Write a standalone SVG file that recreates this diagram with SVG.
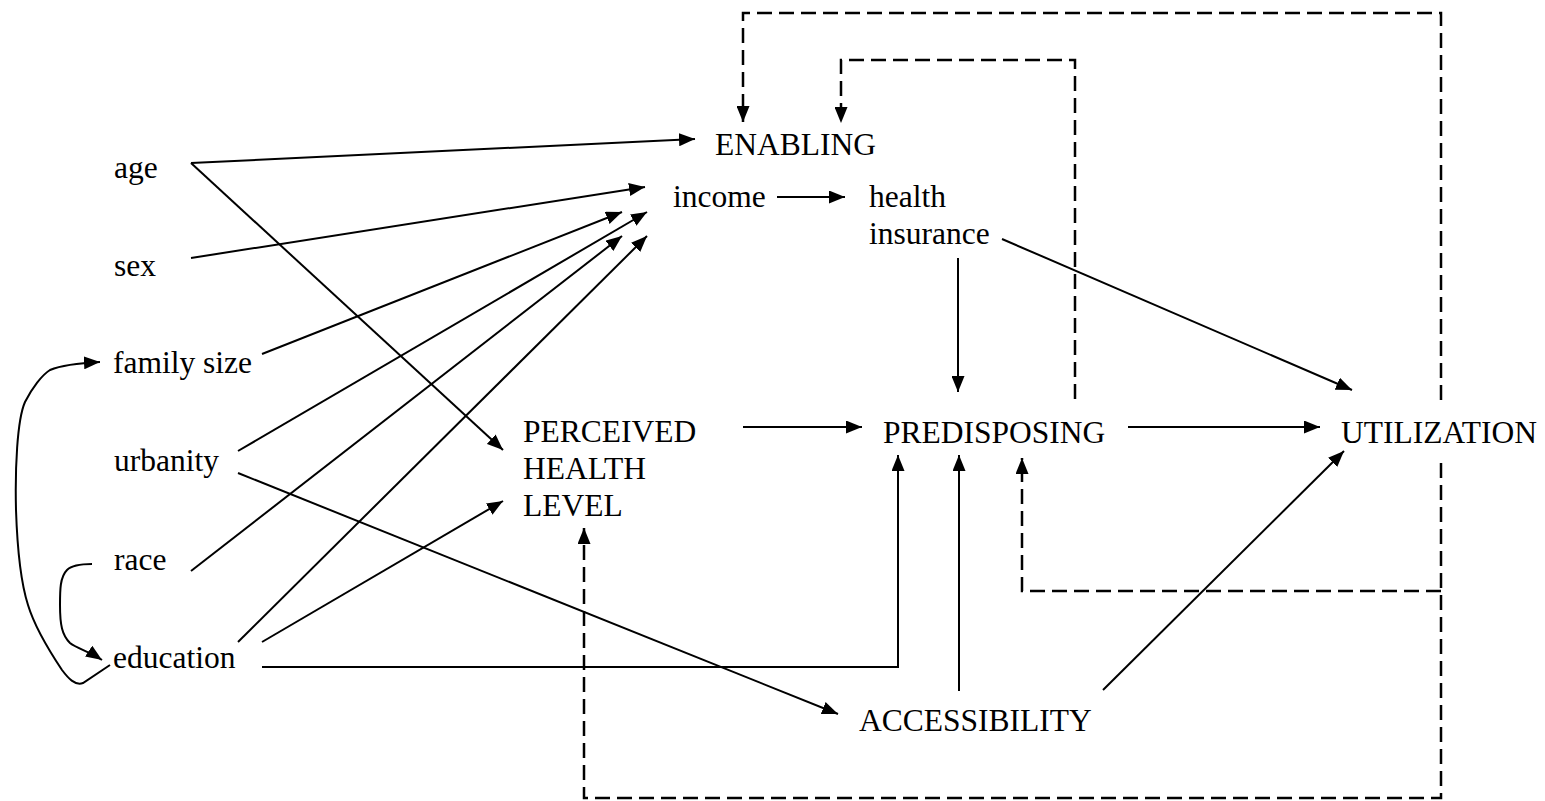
<svg xmlns="http://www.w3.org/2000/svg" width="1545" height="801" viewBox="0 0 1545 801">
  <style>
    text { font-family: "Liberation Serif", "Times New Roman", serif; font-size: 31.5px; fill: #000; }
    .edge { fill: none; stroke: #000; stroke-width: 2; marker-end: url(#arrow); }
    .feedback { fill: none; stroke: #000; stroke-width: 2.5; stroke-dasharray: 15 7; }
    .feedback.tip { marker-end: url(#arrow); }
  </style>
  <defs>
    <marker id="arrow" markerUnits="userSpaceOnUse" markerWidth="16" markerHeight="13" refX="16" refY="6.5" orient="auto">
      <path d="M0,0 L16,6.5 L0,13 Z" fill="#000" stroke="none"/>
    </marker>
  </defs>
  <rect width="1545" height="801" fill="#fff"/>

  <g id="connectors">
    <!-- background variables -->
    <line class="edge" x1="191" y1="163" x2="695" y2="139"/>
    <line class="edge" x1="191" y1="163" x2="503" y2="450"/>
    <line class="edge" x1="191" y1="258" x2="645" y2="187"/>
    <line class="edge" x1="262" y1="354" x2="622" y2="212"/>
    <line class="edge" x1="238" y1="451" x2="647" y2="212"/>
    <line class="edge" x1="238" y1="473" x2="838" y2="714"/>
    <line class="edge" x1="191" y1="571" x2="622" y2="236"/>
    <line class="edge" x1="238" y1="642" x2="647" y2="236"/>
    <line class="edge" x1="262" y1="642" x2="503" y2="501"/>
    <path class="edge" d="M262,667 H898 V455"/>
    <!-- curved links on the left -->
    <path class="edge" d="M92,564 C80,564 72,565 67,570 C60,577 60,590 60,605 C60,625 62,635 70,643 C76,648 90,652 102,660"/>
    <path class="edge" d="M110,665 L83,683 C75,686 68,678 62,670 C50,652 35,628 28,605 C20,580 17,540 16,510 C15,470 17,420 25,402 C32,388 42,375 50,370 C62,365 80,363 100,362"/>
    <!-- enabling chain -->
    <line class="edge" x1="777" y1="197" x2="845" y2="197"/>
    <line class="edge" x1="958" y1="258" x2="958" y2="392"/>
    <line class="edge" x1="1002" y1="239" x2="1352" y2="390"/>
    <!-- main path -->
    <line class="edge" x1="743" y1="427" x2="862" y2="427"/>
    <line class="edge" x1="1128" y1="427" x2="1320" y2="427"/>
    <line class="edge" x1="959" y1="691" x2="959" y2="455"/>
    <line class="edge" x1="1103" y1="690" x2="1344" y2="451"/>
    <!-- feedback loops -->
    <path class="feedback tip" d="M1441,400 V13 H743 V122"/>
    <path class="feedback tip" d="M1075,399 V60 H841 V123"/>
    <path class="feedback tip" d="M1441,463 V798 H584 V528"/>
    <path class="feedback tip" d="M1441,591 H1022 V458"/>
  </g>

  <g id="age"><text x="114" y="178">age</text></g>
  <g id="sex"><text x="114" y="276">sex</text></g>
  <g id="family-size"><text x="113" y="373">family size</text></g>
  <g id="urbanity"><text x="114" y="471">urbanity</text></g>
  <g id="race"><text x="114" y="570">race</text></g>
  <g id="education"><text x="113" y="668">education</text></g>
  <g id="enabling"><text x="715" y="155">ENABLING</text></g>
  <g id="income"><text x="673" y="207">income</text></g>
  <g id="health-insurance"><text x="869" y="207">health</text><text x="869" y="244">insurance</text></g>
  <g id="perceived-health-level">
    <text x="523" y="442">PERCEIVED</text>
    <text x="523" y="479">HEALTH</text>
    <text x="523" y="516">LEVEL</text>
  </g>
  <g id="predisposing"><text x="883" y="443">PREDISPOSING</text></g>
  <g id="utilization"><text x="1341" y="443">UTILIZATION</text></g>
  <g id="accessibility"><text x="859" y="731">ACCESSIBILITY</text></g>
</svg>
